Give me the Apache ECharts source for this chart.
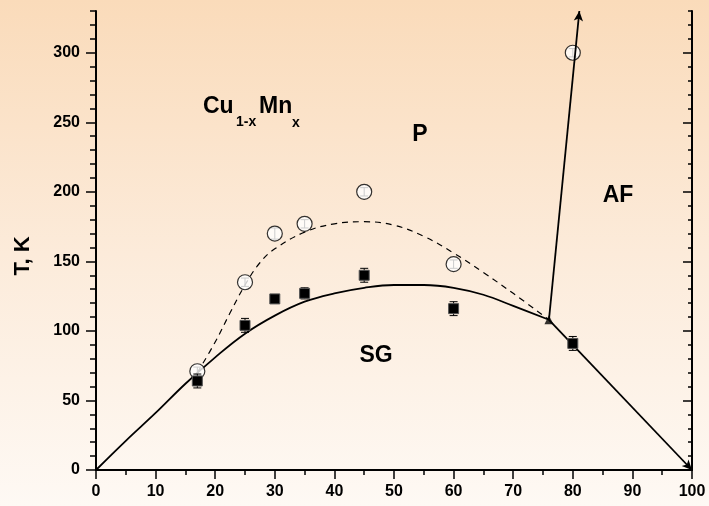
<!DOCTYPE html>
<html>
<head>
<meta charset="utf-8">
<script src="https://cdn.jsdelivr.net/npm/echarts@6/dist/echarts.min.js"></script>
<style>
html,body{margin:0;padding:0;}
#chart{width:709px;height:506px;}
</style>
</head>
<body>
<div id="chart"></div>
<script>
// ---- data ----
const concentrations = [17, 25, 30, 35, 45, 60, 80];
const tOpen = [71, 135, 170, 177, 200, 148, 300];
const tOpenErr = [3, 3, 4, 3, 3, 3, 3];
const tFilled = [64, 104, 123, 127, 140, 116, 91];
const tFilledErr = [5, 5, 2, 4, 5, 5, 5];

const solidX = [0, 5, 10, 15, 20, 25, 30, 35, 40, 45, 50, 55, 60, 65, 70, 76];
const solidY = [0, 21, 41, 62, 81, 98, 111, 121, 127, 131, 133, 133, 131, 126, 118, 108];

const dashedX = [17, 20, 22.5, 25, 27.5, 30, 35, 40, 45, 50, 55, 60, 65, 70, 76];
const dashedY = [70, 92, 113, 133, 149, 159, 171, 177, 178.5, 176, 168, 156, 142, 127, 108];

const junction = [76, 108];
const afBoundaryEnd = [100, 0];
const pafBoundaryEnd = [81.1, 330];

const xTickValues = [0, 10, 20, 30, 40, 50, 60, 70, 80, 90, 100];
const yTickValues = [0, 50, 100, 150, 200, 250, 300];

// ---- chart ----
const FONT = '"Liberation Sans", Arial, Helvetica, sans-serif';
const chart = echarts.init(document.getElementById('chart'));

function pairs(xs, ys) { return xs.map((x, i) => [x, ys[i]]); }
function errData(xs, ys, es) { return xs.map((x, i) => [x, ys[i], es[i]]); }

const errRender = function (params, api) {
  const x = api.value(0), y = api.value(1), e = api.value(2);
  const lo = api.coord([x, y - e]);
  const hi = api.coord([x, y + e]);
  const w = 4;
  const st = { stroke: '#000', lineWidth: 1 };
  return {
    type: 'group',
    children: [
      { type: 'line', shape: { x1: lo[0], y1: lo[1], x2: hi[0], y2: hi[1] }, style: st },
      { type: 'line', shape: { x1: lo[0] - w, y1: lo[1], x2: lo[0] + w, y2: lo[1] }, style: st },
      { type: 'line', shape: { x1: hi[0] - w, y1: hi[1], x2: hi[0] + w, y2: hi[1] }, style: st }
    ]
  };
};

const axisLineStyle = { color: '#000', width: 2 };
const labelStyle = { color: '#000', fontSize: 16, fontWeight: 'bold', fontFamily: FONT };

const option = {
  animation: false,
  backgroundColor: {
    type: 'linear', x: 0, y: 0, x2: 0, y2: 1,
    colorStops: [
      { offset: 0, color: '#FADBBA' },
      { offset: 0.5, color: '#FCEBDA' },
      { offset: 1, color: '#FEF9F4' }
    ]
  },
  grid: { left: 96, right: 17, top: 11, bottom: 36, containLabel: false },
  xAxis: [
    {
      type: 'value', position: 'bottom', min: 0, max: 100, interval: 10,
      axisLine: { lineStyle: axisLineStyle },
      axisTick: { show: true, inside: false, length: 8, lineStyle: { color: '#000', width: 1.5 } },
      minorTick: { show: true, splitNumber: 2, length: 5, lineStyle: { color: '#000', width: 1.5 } },
      axisLabel: Object.assign({ margin: 14, customValues: xTickValues }, labelStyle),
      splitLine: { show: false }, minorSplitLine: { show: false }
    },
    {
      type: 'value', position: 'top', min: 0, max: 100, interval: 10,
      axisLine: { lineStyle: axisLineStyle },
      axisTick: { show: true, inside: true, length: 9, lineStyle: { color: '#000', width: 1.5 } },
      minorTick: { show: true, splitNumber: 2, length: 4, lineStyle: { color: '#000', width: 1.5 } },
      axisLabel: { show: false },
      splitLine: { show: false }
    }
  ],
  yAxis: [
    {
      type: 'value', position: 'left', min: 0, max: 330,
      axisLine: { show: true, lineStyle: axisLineStyle },
      axisTick: { show: true, inside: false, length: 10, customValues: yTickValues, lineStyle: { color: '#000', width: 1.5 } },
      axisLabel: Object.assign({ margin: 16, customValues: yTickValues }, labelStyle),
      splitLine: { show: false }
    },
    {
      type: 'value', position: 'left', min: 0, max: 330, interval: 10,
      axisLine: { show: false },
      axisTick: { show: true, inside: false, length: 6, lineStyle: { color: '#000', width: 1.5 } },
      axisLabel: { show: false },
      splitLine: { show: false }
    },
    {
      type: 'value', position: 'right', min: 0, max: 330,
      axisLine: { show: true, lineStyle: axisLineStyle },
      axisTick: { show: true, inside: true, length: 9, customValues: yTickValues, lineStyle: { color: '#000', width: 1.5 } },
      axisLabel: { show: false },
      splitLine: { show: false }
    },
    {
      type: 'value', position: 'right', min: 0, max: 330, interval: 10,
      axisLine: { show: false },
      axisTick: { show: true, inside: true, length: 4, lineStyle: { color: '#000', width: 1.5 } },
      axisLabel: { show: false },
      splitLine: { show: false }
    }
  ],
  series: [
    {
      type: 'line', name: 'dashed', smooth: 0.4, symbol: 'none',
      data: pairs(dashedX, dashedY),
      lineStyle: { color: '#000', width: 1.2, type: [6, 5] },
      z: 2
    },
    {
      type: 'line', name: 'solid', smooth: 0.4, symbol: 'none',
      data: pairs(solidX, solidY),
      lineStyle: { color: '#000', width: 1.8 },
      z: 2,
      markLine: {
        silent: true, animation: false,
        symbol: ['none', 'arrow'], symbolSize: [7, 10],
        label: { show: false },
        lineStyle: { color: '#000', width: 1.8, type: 'solid' },
        data: [
          [{ coord: junction }, { coord: afBoundaryEnd }],
          [{ coord: junction }, { coord: pafBoundaryEnd }]
        ]
      }
    },
    {
      type: 'scatter', name: 'junction', symbol: 'triangle', symbolSize: 9,
      data: [junction], itemStyle: { color: '#000' }, z: 4
    },
    {
      type: 'custom', name: 'errOpen', renderItem: errRender,
      data: errData(concentrations, tOpen, tOpenErr), z: 3
    },
    {
      type: 'scatter', name: 'open', symbol: 'circle', symbolSize: 15,
      data: pairs(concentrations, tOpen),
      itemStyle: { color: '#fff', borderColor: '#000', borderWidth: 1.2 },
      z: 3
    },
    {
      type: 'custom', name: 'errFilled', renderItem: errRender,
      data: errData(concentrations, tFilled, tFilledErr), z: 5
    },
    {
      type: 'scatter', name: 'filled', symbol: 'rect', symbolSize: 10,
      data: pairs(concentrations, tFilled),
      itemStyle: { color: '#000', borderColor: '#555', borderWidth: 1, opacity: 1 },
      z: 8, zlevel: 0
    }
  ],
  graphic: [
    { type: 'text', x: 23, y: 256, rotation: Math.PI / 2,
      style: { text: 'T, K', font: 'bold 22px ' + FONT, fill: '#000', textAlign: 'center', textVerticalAlign: 'middle' } },
    { type: 'text', x: 203, y: 107,
      style: { text: 'Cu', font: 'bold 23px ' + FONT, fill: '#000', textAlign: 'left', textVerticalAlign: 'middle' } },
    { type: 'text', x: 236, y: 122,
      style: { text: '1-x', font: 'bold 14px ' + FONT, fill: '#000', textAlign: 'left', textVerticalAlign: 'middle' } },
    { type: 'text', x: 259, y: 107,
      style: { text: 'Mn', font: 'bold 23px ' + FONT, fill: '#000', textAlign: 'left', textVerticalAlign: 'middle' } },
    { type: 'text', x: 292, y: 123,
      style: { text: 'x', font: 'bold 14px ' + FONT, fill: '#000', textAlign: 'left', textVerticalAlign: 'middle' } },
    { type: 'text', x: 420, y: 135,
      style: { text: 'P', font: 'bold 23px ' + FONT, fill: '#000', textAlign: 'center', textVerticalAlign: 'middle' } },
    { type: 'text', x: 376, y: 356,
      style: { text: 'SG', font: 'bold 23px ' + FONT, fill: '#000', textAlign: 'center', textVerticalAlign: 'middle' } },
    { type: 'text', x: 618, y: 196,
      style: { text: 'AF', font: 'bold 23px ' + FONT, fill: '#000', textAlign: 'center', textVerticalAlign: 'middle' } }
  ]
};
chart.setOption(option);
</script>
</body>
</html>
